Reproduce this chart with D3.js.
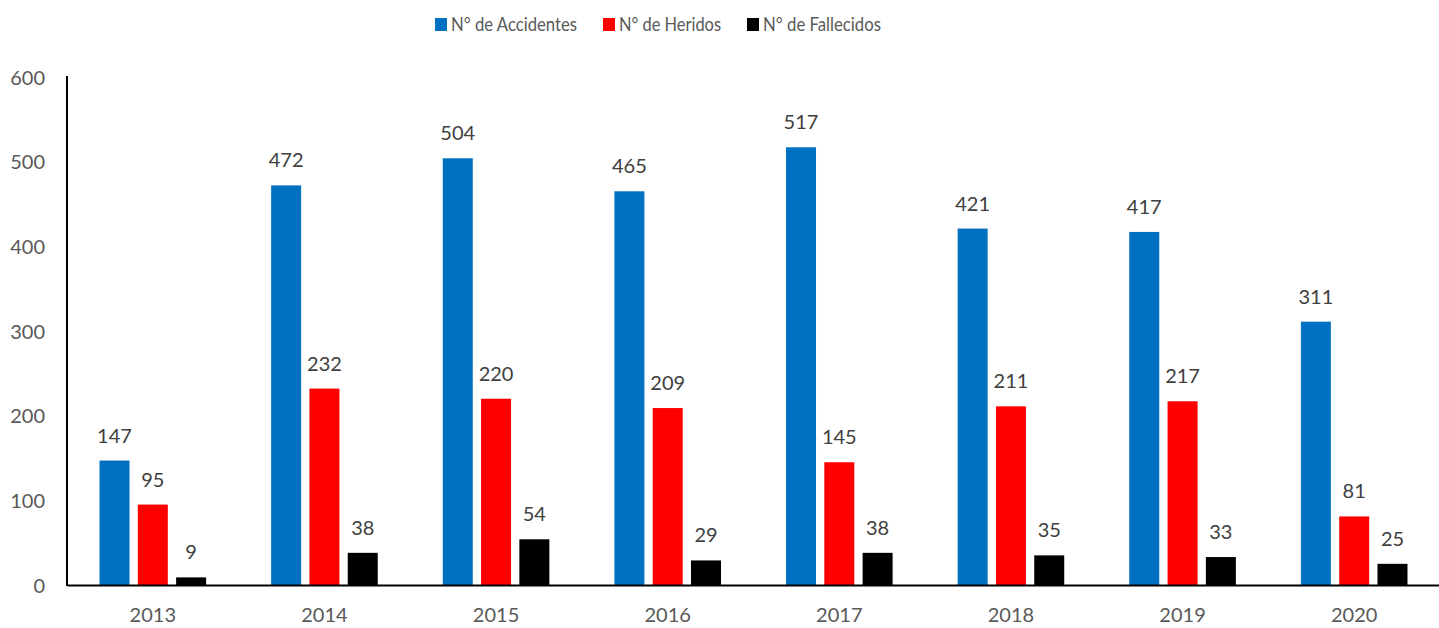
<!DOCTYPE html>
<html>
<head>
<meta charset="utf-8">
<script src="https://cdn.jsdelivr.net/npm/d3@7/dist/d3.min.js"></script>
<style>
  html, body { margin: 0; padding: 0; background: #fff; }
  svg { display: block; }
  text { font-family: Lato, "Open Sans", sans-serif; }
</style>
</head>
<body>
<svg id="chart" width="1439" height="628"></svg>
<script>
// Road accident statistics per year
const years = ["2013", "2014", "2015", "2016", "2017", "2018", "2019", "2020"];
const accidentes = [147, 472, 504, 465, 517, 421, 417, 311];
const heridos = [95, 232, 220, 209, 145, 211, 217, 81];
const fallecidos = [9, 38, 54, 29, 38, 35, 33, 25];
const seriesNames = ["N° de Accidentes", "N° de Heridos", "N° de Fallecidos"];
const seriesColors = ["#0070C0", "#FF0000", "#000000"];
const yTicks = [0, 100, 200, 300, 400, 500, 600];

const series = [accidentes, heridos, fallecidos];

const svg = d3.select("#chart");
const margin = { left: 67, right: -1, top: 77, bottom: 43 };
const W = 1439, H = 628;

const x = d3.scaleBand().domain(years).range([margin.left, W - margin.right]).padding(0);
const y = d3.scaleLinear().domain([0, 600]).range([H - margin.bottom, margin.top]);

// position of each series within a year group
const barW = 30, barStep = 38.3;
const inner = d3.scaleOrdinal().domain([0, 1, 2]).range([-barStep, 0, barStep]);

// y axis labels
const yAxis = d3.axisLeft(y).tickValues(yTicks).tickSize(0).tickPadding(0);
const gy = svg.append("g").attr("transform", `translate(${margin.left - 22},0)`).call(yAxis);
gy.select(".domain").remove();
gy.selectAll("text").attr("fill", "#595959").style("font-size", "20px").attr("dy", "0.35em");

// bars
series.forEach((vals, si) => {
  svg.append("g").selectAll("rect")
    .data(vals)
    .join("rect")
    .attr("x", (d, i) => x(years[i]) + x.bandwidth() / 2 + inner(si) - barW / 2)
    .attr("y", d => y(d))
    .attr("width", barW)
    .attr("height", d => y(0) - y(d))
    .attr("fill", seriesColors[si]);

  svg.append("g").selectAll("text")
    .data(vals)
    .join("text")
    .attr("x", (d, i) => x(years[i]) + x.bandwidth() / 2 + inner(si))
    .attr("y", d => y(d) - 18)
    .attr("text-anchor", "middle")
    .attr("fill", "#404040")
    .style("font-size", "20px")
    .text(d => d);
});

// axis lines
svg.append("line")
  .attr("x1", margin.left).attr("x2", margin.left)
  .attr("y1", y(600) - 1).attr("y2", y(0) + 1)
  .attr("stroke", "#000").attr("stroke-width", 2);

const xAxis = d3.axisBottom(x).tickSize(0).tickPadding(23);
const gx = svg.append("g").attr("transform", `translate(0,${y(0)})`).call(xAxis);
gx.select(".domain").attr("stroke", "#000").attr("stroke-width", 2);
gx.selectAll("text").attr("fill", "#595959").style("font-size", "20px");

// legend
const legendX = [435, 603, 747];
const legendTextW = [126, 102, 118];
const legend = svg.append("g");
seriesNames.forEach((name, i) => {
  legend.append("rect")
    .attr("x", legendX[i]).attr("y", 18)
    .attr("width", 12).attr("height", 13)
    .attr("fill", seriesColors[i]);
  legend.append("text")
    .attr("x", legendX[i] + 16).attr("y", 24)
    .attr("dy", "0.35em")
    .attr("fill", "#595959")
    .style("font-size", "20px")
    .attr("textLength", legendTextW[i])
    .attr("lengthAdjust", "spacingAndGlyphs")
    .text(name);
});
</script>
</body>
</html>
